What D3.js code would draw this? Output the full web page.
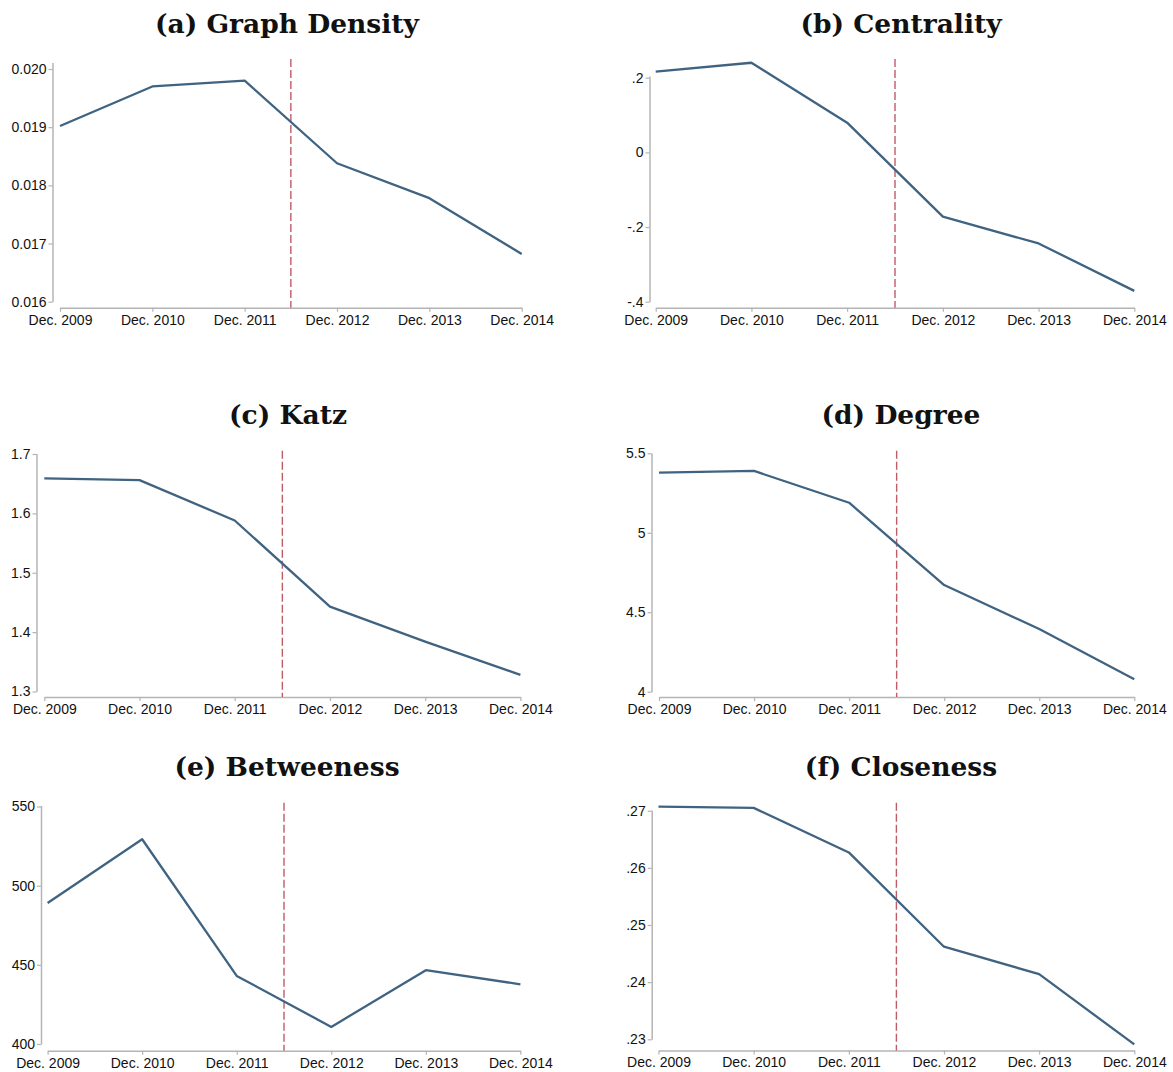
<!DOCTYPE html>
<html>
<head>
<meta charset="utf-8">
<script src="https://cdn.jsdelivr.net/npm/d3@7"></script>
<style>
  html, body { margin: 0; padding: 0; background: #ffffff; }
  svg { display: block; }
</style>
</head>
<body>
<svg id="chart" width="1173" height="1072"></svg>
<script>
// ---------- DATA ----------
const categories = ["Dec. 2009", "Dec. 2010", "Dec. 2011", "Dec. 2012", "Dec. 2013", "Dec. 2014"];
const cutoffIndex = 2.5; // vertical dashed reference between Dec. 2011 and Dec. 2012

const densityValues    = [0.01902, 0.01970, 0.01980, 0.01838, 0.01778, 0.01682];
const centralityValues = [0.216, 0.240, 0.0795, -0.172, -0.244, -0.371];
const katzValues       = [1.659, 1.656, 1.588, 1.443, 1.384, 1.328];
const degreeValues     = [5.378, 5.389, 5.189, 4.671, 4.394, 4.078];
const betweenessValues = [489.1, 529.3, 443.0, 410.8, 446.6, 437.7];
const closenessValues  = [0.2707, 0.2705, 0.2627, 0.2462, 0.2414, 0.2291];

const densityTicks     = [0.016, 0.017, 0.018, 0.019, 0.020];
const densityLabels    = ["0.016", "0.017", "0.018", "0.019", "0.020"];
const centralityTicks  = [-0.4, -0.2, 0, 0.2];
const centralityLabels = ["-.4", "-.2", "0", ".2"];
const katzTicks        = [1.3, 1.4, 1.5, 1.6, 1.7];
const katzLabels       = ["1.3", "1.4", "1.5", "1.6", "1.7"];
const degreeTicks      = [4, 4.5, 5, 5.5];
const degreeLabels     = ["4", "4.5", "5", "5.5"];
const betweenessTicks  = [400, 450, 500, 550];
const betweenessLabels = ["400", "450", "500", "550"];
const closenessTicks   = [0.23, 0.24, 0.25, 0.26, 0.27];
const closenessLabels  = [".23", ".24", ".25", ".26", ".27"];

const titles = ["(a) Graph Density", "(b) Centrality", "(c) Katz", "(d) Degree", "(e) Betweeness", "(f) Closeness"];

// ---------- LAYOUT (pixels) ----------
const panels = [
  { title: titles[0], values: densityValues, ticks: densityTicks, labels: densityLabels,
    axisX: 52.5, x0: 60, x1: 521.7, yLoPx: 301.7, yHiPx: 69, axisTopPx: 62.5, xAxisY: 307.7, dashTop: 59, titleX: 287, titleY: 33.3 },
  { title: titles[1], values: centralityValues, ticks: centralityTicks, labels: centralityLabels,
    axisX: 649.5, x0: 655.7, x1: 1134.3, yLoPx: 301.7, yHiPx: 77.7, axisTopPx: 76, xAxisY: 307.7, dashTop: 59, titleX: 901, titleY: 33.3 },
  { title: titles[2], values: katzValues, ticks: katzTicks, labels: katzLabels,
    axisX: 36.5, x0: 44.3, x1: 520.4, yLoPx: 691.5, yHiPx: 454, axisTopPx: 453.5, xAxisY: 697, dashTop: 450.7, titleX: 288, titleY: 424.3 },
  { title: titles[3], values: degreeValues, ticks: degreeTicks, labels: degreeLabels,
    axisX: 651.5, x0: 659, x1: 1134.3, yLoPx: 691.7, yHiPx: 453.3, axisTopPx: 453, xAxisY: 697, dashTop: 450.7, titleX: 901, titleY: 424.3 },
  { title: titles[4], values: betweenessValues, ticks: betweenessTicks, labels: betweenessLabels,
    axisX: 41, x0: 47.6, x1: 520.4, yLoPx: 1044, yHiPx: 806.5, axisTopPx: 805.5, xAxisY: 1050.7, dashTop: 802.7, titleX: 287, titleY: 776 },
  { title: titles[5], values: closenessValues, ticks: closenessTicks, labels: closenessLabels,
    axisX: 651.7, x0: 658.5, x1: 1134.3, yLoPx: 1039.3, yHiPx: 810.7, axisTopPx: 810, xAxisY: 1050.5, dashTop: 802.7, titleX: 901, titleY: 775.5 }
];

const LINE_COLOR = "#3f6380";
const AXIS_COLOR = "#b4b4b4";
const DASH_COLOR = "#bf5c66";

const svg = d3.select("#chart");

panels.forEach(p => {
  const g = svg.append("g");
  const tMin = d3.min(p.ticks), tMax = d3.max(p.ticks);

  const x = d3.scaleLinear().domain([0, categories.length - 1]).range([p.x0, p.x1]);
  const y = d3.scaleLinear().domain([tMin, tMax]).range([p.yLoPx, p.yHiPx]);

  // Title
  g.append("text")
    .attr("x", p.titleX).attr("y", p.titleY)
    .attr("text-anchor", "middle")
    .attr("font-family", "'DejaVu Serif', serif")
    .attr("font-weight", "bold")
    .attr("font-size", 26.5)
    .attr("fill", "#111")
    .text(p.title);

  // Y axis
  const yAxisScale = d3.scaleLinear()
    .domain([tMin, y.invert(p.axisTopPx)])
    .range([p.yLoPx, p.axisTopPx]);
  const yAxis = d3.axisLeft(yAxisScale)
    .tickValues(p.ticks)
    .tickFormat((d, i) => p.labels[i])
    .tickSizeInner(4).tickSizeOuter(0).tickPadding(2);
  const yg = g.append("g").attr("transform", `translate(${p.axisX},0)`).call(yAxis);

  // X axis
  const xAxis = d3.axisBottom(x)
    .tickValues(d3.range(categories.length))
    .tickFormat(i => categories[i])
    .tickSizeInner(4).tickSizeOuter(0).tickPadding(3);
  const xg = g.append("g").attr("transform", `translate(0,${p.xAxisY})`).call(xAxis);

  [yg, xg].forEach(ax => {
    ax.select(".domain").attr("stroke", AXIS_COLOR).attr("stroke-width", 1.5);
    ax.selectAll(".tick line").attr("stroke", AXIS_COLOR).attr("stroke-width", 1.2);
    ax.selectAll(".tick text")
      .attr("fill", "#111")
      .attr("font-family", "'Liberation Sans', Arial, sans-serif")
      .attr("font-size", 14);
  });

  // Cutoff dashed line
  g.append("line")
    .attr("x1", x(cutoffIndex)).attr("x2", x(cutoffIndex))
    .attr("y1", p.dashTop).attr("y2", p.xAxisY)
    .attr("stroke", DASH_COLOR)
    .attr("stroke-width", 1.4)
    .attr("stroke-dasharray", "8,3");

  // Series line
  const line = d3.line().x((d, i) => x(i)).y(d => y(d));
  g.append("path")
    .datum(p.values)
    .attr("fill", "none")
    .attr("stroke", LINE_COLOR)
    .attr("stroke-width", 2.3)
    .attr("stroke-linejoin", "round")
    .attr("d", line);
});
</script>
</body>
</html>
